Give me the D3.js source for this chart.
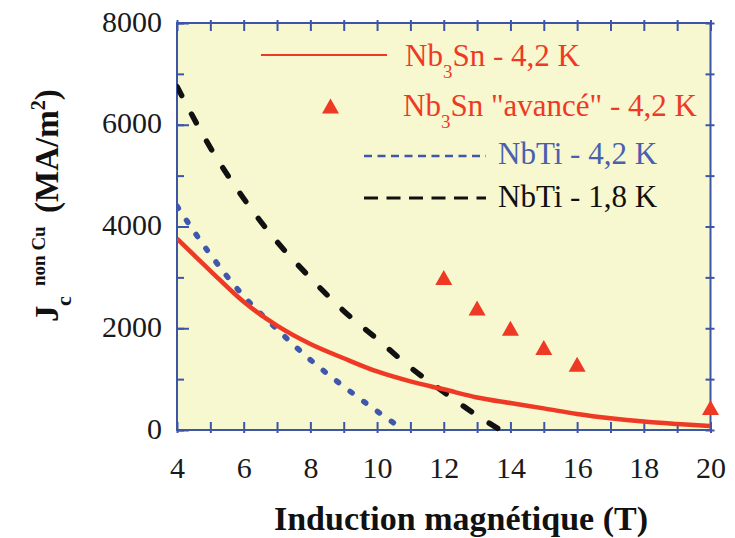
<!DOCTYPE html>
<html>
<head>
<meta charset="utf-8">
<script src="https://cdn.jsdelivr.net/npm/d3@7"></script>
<style>
  html, body { margin: 0; padding: 0; background: #ffffff; }
  svg { display: block; }
  text { font-family: "Liberation Serif", "Times New Roman", serif; }
</style>
</head>
<body>
<svg id="chart" width="735" height="538"></svg>
<script>
// Non-copper critical current density versus magnetic field

// Nb3Sn wire at 4.2 K (solid curve)
const fieldNb3Sn = [4, 5, 6, 7, 8, 9, 10, 11, 12, 13, 14, 15, 16, 17, 18, 19, 20];
const jcNb3Sn    = [3760, 3130, 2520, 2050, 1690, 1410, 1150, 955, 800, 640, 530, 425, 315, 230, 165, 118, 78];

// "Advanced" Nb3Sn at 4.2 K (triangles)
const fieldNb3SnAdv = [12, 13, 14, 15, 16, 20];
const jcNb3SnAdv    = [3000, 2400, 2000, 1620, 1290, 440];

// NbTi at 4.2 K (dotted curve)
const fieldNbTi42 = [4, 5, 6, 7, 8, 9, 10, 10.8];
const jcNbTi42    = [4400, 3450, 2630, 1980, 1380, 855, 370, 0];

// NbTi at 1.8 K (dashed curve)
const fieldNbTi18 = [4, 5, 6, 7, 8, 9, 10, 11, 12, 13, 13.7];
const jcNbTi18    = [6750, 5550, 4550, 3700, 2990, 2340, 1790, 1230, 745, 285, 0];

// Axis ticks
const xTickLabels = [4, 6, 8, 10, 12, 14, 16, 18, 20];
const xMinorTicks = [4, 5, 6, 7, 8, 9, 10, 11, 12, 13, 14, 15, 16, 17, 18, 19, 20];
const yTickLabels = [0, 2000, 4000, 6000, 8000];
const yMinorTicks = [0, 1000, 2000, 3000, 4000, 5000, 6000, 7000, 8000];

// Legend entries: [main text, subscript, rest]
const legendNames = [
  ["Nb", "3", "Sn - 4,2 K"],
  ["Nb", "3", "Sn \"avancé\" - 4,2 K"],
  ["NbTi - 4,2 K", "", ""],
  ["NbTi - 1,8 K", "", ""]
];

const RED = "#ee3a25", BLUE = "#3f58ad", BLACK = "#111111", FRAME = "#3d55a6";

const svg = d3.select("#chart");
const plot = { left: 177, right: 710.5, top: 23, bottom: 430 };

const x = d3.scaleLinear().domain([4, 20]).range([plot.left, plot.right]);
const y = d3.scaleLinear().domain([0, 8000]).range([plot.bottom, plot.top]);

// plot background
svg.append("rect")
  .attr("x", plot.left).attr("y", plot.top)
  .attr("width", plot.right - plot.left).attr("height", plot.bottom - plot.top)
  .attr("fill", "#f7f7d0");

// tick marks (drawn with axis generators, no labels)
function ticksOnly(axis, tx, ty) {
  const g = svg.append("g").attr("transform", `translate(${tx},${ty})`).call(axis);
  g.select(".domain").remove();
  g.selectAll("text").remove();
  g.selectAll("line").attr("stroke", FRAME).attr("stroke-width", 2);
  return g;
}
// bottom: short outward, longer inward
ticksOnly(d3.axisBottom(x).tickValues(xMinorTicks).tickSize(3), 0, plot.bottom);
ticksOnly(d3.axisTop(x).tickValues(xMinorTicks).tickSize(8), 0, plot.bottom);
// top
ticksOnly(d3.axisTop(x).tickValues(xMinorTicks).tickSize(3), 0, plot.top);
ticksOnly(d3.axisBottom(x).tickValues(xMinorTicks).tickSize(8), 0, plot.top);
// left: inward, major longer
ticksOnly(d3.axisRight(y).tickValues(yMinorTicks).tickSize(7), plot.left, 0);
ticksOnly(d3.axisRight(y).tickValues(yTickLabels).tickSize(12), plot.left, 0);
// right: crossing ticks
ticksOnly(d3.axisRight(y).tickValues(yMinorTicks).tickSize(4), plot.right, 0);
ticksOnly(d3.axisLeft(y).tickValues(yMinorTicks).tickSize(5), plot.right, 0);

// frame
svg.append("rect")
  .attr("x", plot.left).attr("y", plot.top)
  .attr("width", plot.right - plot.left).attr("height", plot.bottom - plot.top)
  .attr("fill", "none").attr("stroke", FRAME).attr("stroke-width", 2);

// tick labels
const xLab = svg.append("g").attr("transform", `translate(0,${plot.bottom})`)
  .call(d3.axisBottom(x).tickValues(xTickLabels).tickSize(0).tickPadding(0).tickFormat(d3.format("d")));
xLab.select(".domain").remove();
xLab.selectAll("text")
  .attr("y", 48).attr("dy", null)
  .attr("font-size", 30).attr("fill", "#1a1a1a")
  .attr("font-family", "Liberation Serif, serif");

const yLab = svg.append("g").attr("transform", `translate(${plot.left},0)`)
  .call(d3.axisLeft(y).tickValues(yTickLabels).tickSize(0).tickPadding(0).tickFormat(d3.format("d")));
yLab.select(".domain").remove();
yLab.selectAll("text")
  .attr("x", -15).attr("dy", 8)
  .attr("font-size", 30).attr("fill", "#1a1a1a")
  .attr("font-family", "Liberation Serif, serif");

// curves
const line = d3.line().x(d => x(d[0])).y(d => y(d[1])).curve(d3.curveMonotoneX);
const zip = (a, b) => a.map((v, i) => [v, b[i]]);

const clip = svg.append("clipPath").attr("id", "plotClip")
  .append("rect").attr("x", plot.left).attr("y", plot.top)
  .attr("width", plot.right - plot.left).attr("height", plot.bottom - plot.top + 2);

const curves = svg.append("g").attr("clip-path", "url(#plotClip)");

curves.append("path")
  .datum(zip(fieldNbTi42, jcNbTi42))
  .attr("d", line)
  .attr("fill", "none").attr("stroke", BLUE).attr("stroke-width", 5.5)
  .attr("stroke-linecap", "round").attr("stroke-dasharray", "2.5 14.5");

curves.append("path")
  .datum(zip(fieldNbTi18, jcNbTi18))
  .attr("d", line)
  .attr("fill", "none").attr("stroke", BLACK).attr("stroke-width", 5.5)
  .attr("stroke-linecap", "round").attr("stroke-dasharray", "10 21");

curves.append("path")
  .datum(zip(fieldNb3Sn, jcNb3Sn))
  .attr("d", line)
  .attr("fill", "none").attr("stroke", RED).attr("stroke-width", 4.5);

// triangle markers
const tri = "M0,-7.5L8.5,7.5L-8.5,7.5Z";
svg.append("g").selectAll("path")
  .data(zip(fieldNb3SnAdv, jcNb3SnAdv))
  .join("path")
  .attr("d", tri)
  .attr("transform", d => `translate(${x(d[0])},${y(d[1])})`)
  .attr("fill", RED);

// legend
const legend = svg.append("g");
function legendText(tx, ty, parts, color) {
  const t = legend.append("text").attr("x", tx).attr("y", ty)
    .attr("font-size", 31).attr("fill", color);
  t.append("tspan").text(parts[0]);
  if (parts[1]) {
    t.append("tspan").attr("font-size", 19).attr("dy", 12).text(parts[1]);
    t.append("tspan").attr("dy", -12).text(parts[2]);
  }
}
legend.append("line").attr("x1", 261).attr("x2", 387).attr("y1", 55).attr("y2", 55)
  .attr("stroke", RED).attr("stroke-width", 2.2);
legendText(405, 66, legendNames[0], RED);

legend.append("path").attr("d", tri).attr("transform", "translate(330.5,106)").attr("fill", RED);
legendText(403, 116, legendNames[1], RED);

legend.append("line").attr("x1", 364).attr("x2", 486).attr("y1", 156).attr("y2", 156)
  .attr("stroke", BLUE).attr("stroke-width", 2.5).attr("stroke-dasharray", "8 5.5");
legendText(498, 164, legendNames[2], "#4a5fae");

legend.append("line").attr("x1", 364).attr("x2", 486).attr("y1", 198).attr("y2", 198)
  .attr("stroke", BLACK).attr("stroke-width", 3).attr("stroke-dasharray", "14 8.5");
legendText(498, 207, legendNames[3], BLACK);

// axis titles
svg.append("text")
  .attr("x", 461).attr("y", 530)
  .attr("text-anchor", "middle")
  .attr("font-size", 34).attr("font-weight", "bold").attr("fill", "#111")
  .text("Induction magnétique (T)");

const yt = svg.append("g").attr("transform", "translate(58,322) rotate(-90)");
yt.append("text").attr("x", 0).attr("y", 0)
  .attr("font-size", 33).attr("font-weight", "bold").attr("fill", "#111").text("J");
yt.append("text").attr("x", 16).attr("y", 13)
  .attr("font-size", 22).attr("font-weight", "bold").attr("fill", "#111").text("c");
yt.append("text").attr("x", 36).attr("y", -13)
  .attr("font-size", 19).attr("font-weight", "bold").attr("fill", "#111").text("non Cu");
const unit = yt.append("text").attr("x", 109).attr("y", 0)
  .attr("font-size", 33).attr("font-weight", "bold").attr("fill", "#111");
unit.append("tspan").text("(MA/m");
unit.append("tspan").attr("font-size", 20).attr("dy", -13).text("2");
unit.append("tspan").attr("dy", 13).text(")");
</script>
</body>
</html>
